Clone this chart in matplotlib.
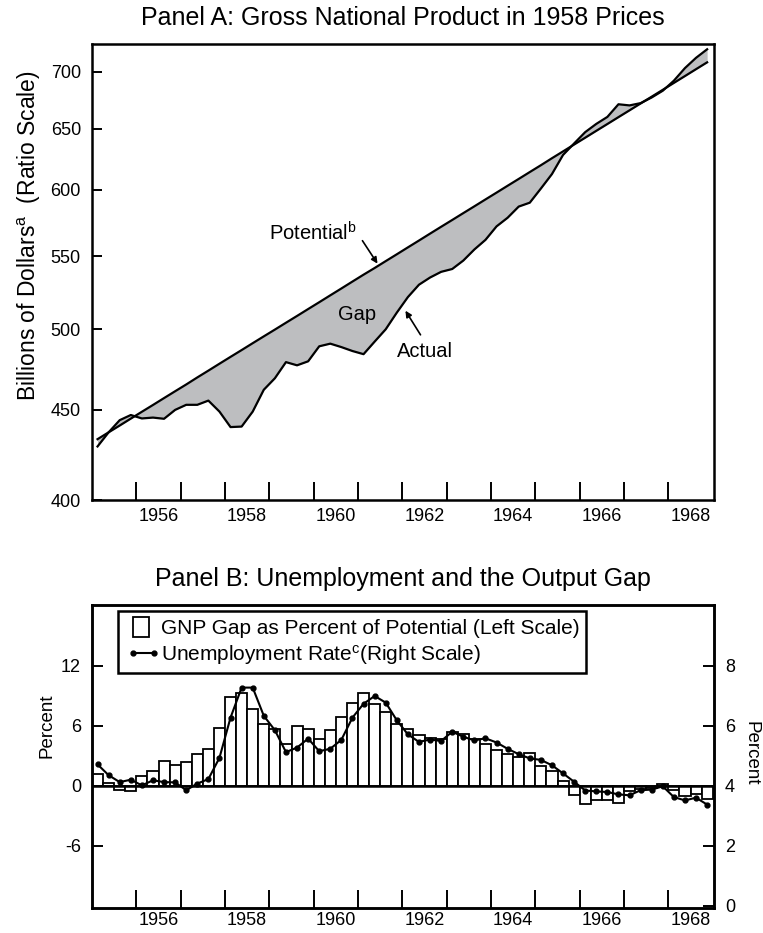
import matplotlib
matplotlib.use("Agg")
import matplotlib.pyplot as plt
import numpy as np
from matplotlib.patches import Patch, Rectangle
from matplotlib.lines import Line2D

plt.rcParams['font.family'] = ['Liberation Sans', 'DejaVu Sans']
plt.rcParams['font.size'] = 15
plt.rcParams['xtick.labelsize'] = 13
plt.rcParams['ytick.labelsize'] = 13
plt.rcParams['mathtext.fontset'] = 'custom'
plt.rcParams['mathtext.rm'] = 'Liberation Sans'
plt.rcParams['mathtext.it'] = 'Liberation Sans'
plt.rcParams['axes.unicode_minus'] = False

# quarterly data 1955Q1 .. 1968Q4 (plotted at mid-quarter)
quarters = np.arange(1955, 1969, 0.25) + 0.125

# Panel A: GNP in 1958 prices, billions
potential = [433.1, 437.0, 440.9, 444.9, 448.9, 452.9, 457.0, 461.1,
             465.2, 469.5, 473.7, 478.0, 482.3, 486.6, 491.0, 495.4,
             499.8, 504.3, 508.8, 513.4, 518.0, 522.7, 527.4, 532.2,
             537.0, 541.7, 546.6, 551.5, 556.5, 561.5, 566.6, 571.7,
             576.8, 582.0, 587.2, 592.5, 597.8, 603.2, 608.6, 614.1,
             619.6, 625.3, 630.9, 636.6, 642.3, 648.1, 653.9, 659.8,
             665.7, 671.7, 677.7, 683.8, 690.0, 696.2, 702.5, 708.8]
actual = [429.0, 437.0, 444.0, 447.0, 445.0, 445.5, 444.8, 450.0,
          453.0, 453.0, 455.5, 449.0, 440.0, 440.3, 449.0, 462.0,
          469.0, 479.0, 477.0, 479.5, 489.0, 490.7, 488.5, 486.0,
          484.0, 492.0, 500.0, 511.0, 521.5, 530.0, 535.0, 539.0,
          541.0, 547.0, 555.0, 562.0, 572.0, 578.5, 587.0, 590.0,
          601.0, 612.5, 628.0, 637.5, 647.0, 654.0, 660.0, 671.0,
          670.0, 672.0, 677.0, 683.0, 692.0, 703.5, 713.0, 721.0]

# Panel B: GNP gap (% of potential, left) and unemployment rate (right)
gap = [1.23, 0.3, -0.43, -0.5, 0.97, 1.5, 2.5, 2.1,
       2.37, 3.23, 3.67, 5.83, 8.9, 9.33, 7.67, 6.23,
       5.67, 4.23, 6.03, 5.73, 4.73, 5.57, 6.9, 8.3,
       9.33, 8.23, 7.4, 6.17, 5.73, 5.07, 4.85, 4.7,
       5.4, 5.2, 4.73, 4.23, 3.6, 3.2, 2.95, 3.33,
       2.05, 1.5, 0.52, -0.85, -1.77, -1.4, -1.43, -1.7,
       -0.47, -0.3, -0.15, 0.17, -0.37, -0.97, -0.77, -1.3]
unemp = [4.72, 4.36, 4.13, 4.21, 4.02, 4.19, 4.13, 4.12,
         3.86, 4.08, 4.23, 4.94, 6.28, 7.28, 7.28, 6.34,
         5.86, 5.13, 5.28, 5.58, 5.16, 5.24, 5.54, 6.28,
         6.74, 7.0, 6.78, 6.19, 5.72, 5.47, 5.55, 5.5,
         5.81, 5.64, 5.52, 5.59, 5.45, 5.24, 5.06, 4.92,
         4.87, 4.69, 4.42, 4.14, 3.85, 3.82, 3.8, 3.72,
         3.69, 3.86, 3.88, 3.99, 3.63, 3.52, 3.61, 3.38]

year_ticks = list(range(1956, 1969))
year_labels = ['1956', '1958', '1960', '1962', '1964', '1966', '1968']
gnp_ticks = [400, 450, 500, 550, 600, 650, 700]
gap_ticks = [-6, 0, 6, 12]
unemp_ticks = [0, 2, 4, 6, 8]

fig = plt.figure(figsize=(7.63, 9.33), dpi=100)
W, H = 763, 933


def rect(l, t, r, b):
    return [l / W, 1 - b / H, (r - l) / W, (b - t) / H]


def style_years(ax, pad):
    ax.set_xlim(1955.0, 1969.03)
    ax.set_xticks(year_ticks)
    ax.set_xticklabels([])
    ax.set_xticks([int(y) + 0.5 for y in year_labels], minor=True)
    ax.set_xticklabels(year_labels, minor=True)
    ax.tick_params(axis='x', which='major', direction='in', length=13, width=1.4, top=False)
    ax.tick_params(axis='x', which='minor', length=0, pad=pad)
    for s in ax.spines.values():
        s.set_linewidth(1.8)


# ---- Panel A ----
axA = fig.add_axes(rect(92, 44, 714, 500))
axA.set_yscale('log')
axA.fill_between(quarters, actual, potential, color='#bdbec0', lw=0)
axA.plot(quarters, potential, color='k', lw=1.6)
axA.plot(quarters, actual, color='k', lw=1.6)
axA.set_ylim(400, 726)
axA.set_yticks(gnp_ticks)
axA.set_yticklabels([str(v) for v in gnp_ticks])
axA.yaxis.set_minor_locator(matplotlib.ticker.NullLocator())
axA.tick_params(axis='y', direction='in', length=7, width=1.4, pad=8)
style_years(axA, 6)
axA.set_title('Panel A: Gross National Product in 1958 Prices', pad=14)
axA.set_ylabel('Billions of Dollars$^{\\mathrm{a}}$  (Ratio Scale)', fontsize=16.5)
axA.yaxis.set_label_coords(-0.079, 0.58)

arrow = dict(arrowstyle='-|>', color='k', lw=1.2, mutation_scale=9, shrinkA=0, shrinkB=0)
axA.text(1959.98, 567, 'Potential$^{\\mathrm{b}}$', ha='center', va='center', fontsize=14.5)
axA.annotate('', xy=(1961.44, 544.8), xytext=(1961.1, 561.4), arrowprops=arrow)
axA.text(1960.99, 509.6, 'Gap', ha='center', va='center', fontsize=14.5)
axA.text(1962.5, 485.5, 'Actual', ha='center', va='center', fontsize=14.5)
axA.annotate('', xy=(1962.07, 512.3), xytext=(1962.41, 496.4), arrowprops=arrow)

# ---- Panel B ----
axB = fig.add_axes(rect(92, 605, 714, 908))
axB.bar(quarters, gap, width=0.25, color='white', edgecolor='k', lw=1.3)
axB.axhline(0, color='k', lw=1.8)
axB.set_ylim(-12.2, 18.1)
axB.set_yticks(gap_ticks)
axB.tick_params(axis='y', direction='in', length=8, width=1.4, pad=8)
style_years(axB, 3)
axB.set_title('Panel B: Unemployment and the Output Gap', pad=14)
axB.set_ylabel('Percent', fontsize=13.5)
axB.yaxis.set_label_coords(-0.059, 0.6)

ax2 = axB.twinx()
ax2.plot(quarters, unemp, color='k', lw=1.5, marker='o', ms=3.5)
ax2.set_ylim(4 - 12.2 / 3, 4 + 18.1 / 3)
ax2.set_yticks(unemp_ticks)
ax2.tick_params(axis='y', direction='in', length=8, width=1.4, pad=8)
ax2.set_ylabel('Percent', rotation=-90, va='center', fontsize=13.5)
ax2.yaxis.set_label_coords(1.06, 0.51)
for s in ax2.spines.values():
    s.set_linewidth(1.8)


# legend handles drawn a little in from the left of the frame
class BarHandle:
    def legend_artist(self, legend, orig_handle, fontsize, handlebox):
        x0, y0 = -handlebox.xdescent, -handlebox.ydescent
        r = Rectangle((x0 + 6.5, y0), 11.5, handlebox.height, facecolor='white',
                      edgecolor='k', lw=1.3, transform=handlebox.get_transform())
        handlebox.add_artist(r)
        return r


class DotLineHandle:
    def legend_artist(self, legend, orig_handle, fontsize, handlebox):
        x0, y0 = -handlebox.xdescent, -handlebox.ydescent
        ym = y0 + handlebox.height / 2
        ln = Line2D([x0 + 6.5, x0 + handlebox.width], [ym, ym], color='k', lw=1.5,
                    marker='o', ms=3.5, transform=handlebox.get_transform())
        handlebox.add_artist(ln)
        return ln


bar_h = Patch(facecolor='white', edgecolor='k')
line_h = Line2D([], [], color='k', marker='o')
labels = ['GNP Gap as Percent of Potential (Left Scale)',
          'Unemployment Rate$^{\\mathrm{c}}$(Right Scale)']
leg = ax2.legend([bar_h, line_h], labels, loc='upper left', bbox_to_anchor=(0.042, 0.98),
                 borderaxespad=0, fancybox=False, framealpha=1, edgecolor='k',
                 handlelength=1.4, handleheight=1.1, handletextpad=0.35,
                 labelspacing=0.2, borderpad=0.3,
                 handler_map={bar_h: BarHandle(), line_h: DotLineHandle()})
leg.get_frame().set_linewidth(1.8)

fig.savefig('out.png', dpi=100)
